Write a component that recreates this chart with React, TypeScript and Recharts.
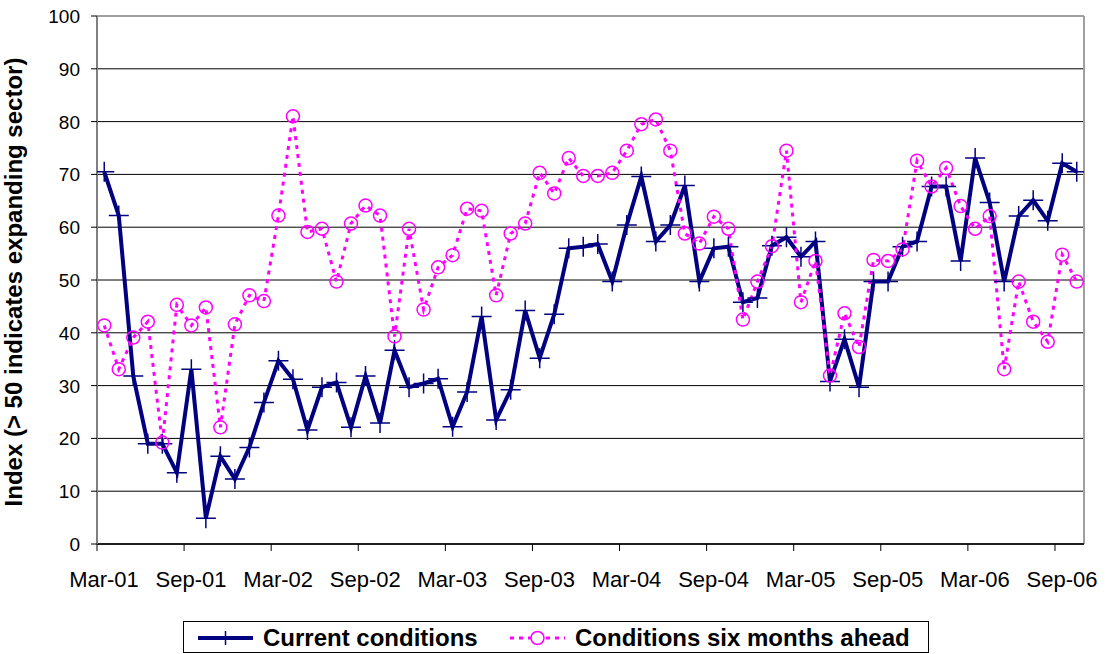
import React from 'react';
import { LineChart, Line, XAxis, YAxis, CartesianGrid, ReferenceLine, Legend } from 'recharts';

const months = [
  'Mar-01','Apr-01','May-01','Jun-01','Jul-01','Aug-01','Sep-01','Oct-01','Nov-01','Dec-01','Jan-02','Feb-02',
  'Mar-02','Apr-02','May-02','Jun-02','Jul-02','Aug-02','Sep-02','Oct-02','Nov-02','Dec-02','Jan-03','Feb-03',
  'Mar-03','Apr-03','May-03','Jun-03','Jul-03','Aug-03','Sep-03','Oct-03','Nov-03','Dec-03','Jan-04','Feb-04',
  'Mar-04','Apr-04','May-04','Jun-04','Jul-04','Aug-04','Sep-04','Oct-04','Nov-04','Dec-04','Jan-05','Feb-05',
  'Mar-05','Apr-05','May-05','Jun-05','Jul-05','Aug-05','Sep-05','Oct-05','Nov-05','Dec-05','Jan-06','Feb-06',
  'Mar-06','Apr-06','May-06','Jun-06','Jul-06','Aug-06','Sep-06','Oct-06',
];

const currentConditions = [
  70.5, 62.2, 31.8, 19.0, 19.0, 13.5, 33.1, 4.9, 16.6, 12.3, 18.3, 26.8,
  34.7, 31.2, 21.6, 29.7, 30.6, 22.1, 31.8, 22.9, 36.7, 29.7, 30.4, 31.3,
  22.2, 28.8, 43.1, 23.5, 29.2, 44.2, 35.2, 43.5, 56.0, 56.3, 56.8, 49.7,
  60.4, 69.6, 57.3, 60.4, 67.9, 49.7, 56.0, 56.3, 45.8, 46.6, 56.5, 58.1,
  54.4, 57.3, 30.8, 38.8, 29.7, 49.7, 49.7, 56.3, 57.3, 67.7, 67.7, 53.6,
  73.1, 64.7, 49.7, 62.1, 65.1, 61.2, 72.1, 70.5,
];

const sixMonthsAhead = [
  41.4, 33.1, 39.1, 42.1, 19.2, 45.3, 41.4, 44.8, 22.1, 41.6, 47.1, 46.0,
  62.2, 81.0, 59.1, 59.7, 49.7, 60.7, 64.1, 62.2, 39.3, 59.7, 44.4, 52.4,
  54.7, 63.5, 63.1, 47.1, 58.8, 60.7, 70.3, 66.4, 73.1, 69.7, 69.7, 70.3,
  74.5, 79.5, 80.4, 74.5, 58.8, 56.9, 62.0, 59.7, 42.5, 49.7, 56.4, 74.5,
  45.8, 53.6, 31.9, 43.7, 37.3, 53.8, 53.6, 55.8, 72.6, 67.7, 71.2, 64.0,
  59.7, 62.1, 33.1, 49.7, 42.1, 38.3, 54.8, 49.7,
];

const tickLabels = ['Mar-01','Sep-01','Mar-02','Sep-02','Mar-03','Sep-03','Mar-04','Sep-04','Mar-05','Sep-05','Mar-06','Sep-06'];
const yTicks = [0, 10, 20, 30, 40, 50, 60, 70, 80, 90, 100];

const NAVY = '#000080';
const MAGENTA = '#FF00FF';
const FONT = '"Liberation Sans", Arial, sans-serif';

const data = months.map((m, i) => ({
  month: m,
  pos: i + 0.5,
  current: currentConditions[i],
  ahead: sixMonthsAhead[i],
}));

const xTickPositions = tickLabels.map((t) => months.indexOf(t));

const PlusDot = (props: any) => {
  const { cx, cy, index } = props;
  if (cx == null || cy == null) return null;
  return (
    <path
      key={`p-${index}`}
      d={`M${cx - 10},${cy} L${cx + 10},${cy} M${cx},${cy - 10} L${cx},${cy + 10}`}
      stroke={NAVY}
      strokeWidth={1.5}
      fill="none"
    />
  );
};

const CircleDot = (props: any) => {
  const { cx, cy, index } = props;
  if (cx == null || cy == null) return null;
  return <circle key={`c-${index}`} cx={cx} cy={cy} r={6.5} stroke={MAGENTA} strokeWidth={1.5} fill="none" />;
};

const XTick = (props: any) => {
  const { x, y, payload } = props;
  return (
    <text x={x + 7} y={y + 34} textAnchor="middle" fontFamily={FONT} fontSize={22} fill="#000000">
      {months[payload.value]}
    </text>
  );
};

const YTick = (props: any) => {
  const { x, y, payload } = props;
  return (
    <text x={x} y={y + 7} textAnchor="end" fontFamily={FONT} fontSize={19} fill="#000000">
      {payload.value}
    </text>
  );
};

const LegendContent = () => (
  <svg width={747} height={33} style={{ display: 'block' }}>
    <rect x={0.5} y={0.5} width={745} height={31} fill="white" stroke="black" strokeWidth={1} />
    <line x1={15} y1={17} x2={70} y2={17} stroke={NAVY} strokeWidth={4} />
    <path d="M42.5,10 L42.5,24" stroke={NAVY} strokeWidth={1.5} />
    <text x={80} y={25} fontFamily={FONT} fontWeight="bold" fontSize={24} fill="black">Current conditions</text>
    <line x1={327} y1={17} x2={382} y2={17} stroke={MAGENTA} strokeWidth={3} strokeDasharray="4 5" />
    <circle cx={354.5} cy={17} r={6.5} stroke={MAGENTA} strokeWidth={1.5} fill="white" />
    <text x={392} y={25} fontFamily={FONT} fontWeight="bold" fontSize={24} fill="black">Conditions six months ahead</text>
  </svg>
);

const YTitle = () => (
  <text
    x={22}
    y={282}
    transform="rotate(-90 22 282)"
    textAnchor="middle"
    fontFamily={FONT}
    fontWeight="bold"
    fontSize={24}
    fill="black"
  >
    Index (&gt; 50 indicates expanding sector)
  </text>
);

export default function App() {
  return (
    <div style={{ position: 'absolute', left: 0, top: 0, width: 1109, height: 654, background: 'white' }}>
      <LineChart width={1109} height={654} data={data} margin={{ top: 16, right: 25, left: 0, bottom: 70 }}>
        <CartesianGrid horizontal={true} vertical={false} stroke="#000000" strokeWidth={1} />
        <XAxis
          type="number"
          dataKey="pos"
          domain={[0, months.length]}
          ticks={xTickPositions}
          interval={0}
          height={40}
          axisLine={{ stroke: '#000000', strokeWidth: 1.5 }}
          tickLine={{ stroke: '#000000' }}
          tickSize={7}
          tickMargin={2}
          tick={<XTick />}
          allowDataOverflow
        />
        <YAxis
          type="number"
          domain={[0, 100]}
          ticks={yTicks}
          interval={0}
          width={97}
          axisLine={{ stroke: '#808080', strokeWidth: 2 }}
          tickLine={{ stroke: '#000000' }}
          tickSize={6}
          tickMargin={11}
          tick={<YTick />}
          label={<YTitle />}
        />
        <ReferenceLine y={100} stroke="#a0a0a0" strokeWidth={2} />
        <ReferenceLine x={months.length} stroke="#a0a0a0" strokeWidth={2} />
        <Legend
          layout="horizontal"
          verticalAlign="middle"
          align="center"
          content={<LegendContent />}
          wrapperStyle={{ position: 'absolute', left: 183, top: 621, width: 747, height: 33 }}
        />
        <Line
          type="linear"
          dataKey="current"
          name="Current conditions"
          stroke={NAVY}
          strokeWidth={4}
          dot={PlusDot}
          activeDot={false}
          isAnimationActive={false}
        />
        <Line
          type="linear"
          dataKey="ahead"
          name="Conditions six months ahead"
          stroke={MAGENTA}
          strokeWidth={3}
          strokeDasharray="4 5"
          dot={CircleDot}
          activeDot={false}
          isAnimationActive={false}
        />
      </LineChart>
    </div>
  );
}
